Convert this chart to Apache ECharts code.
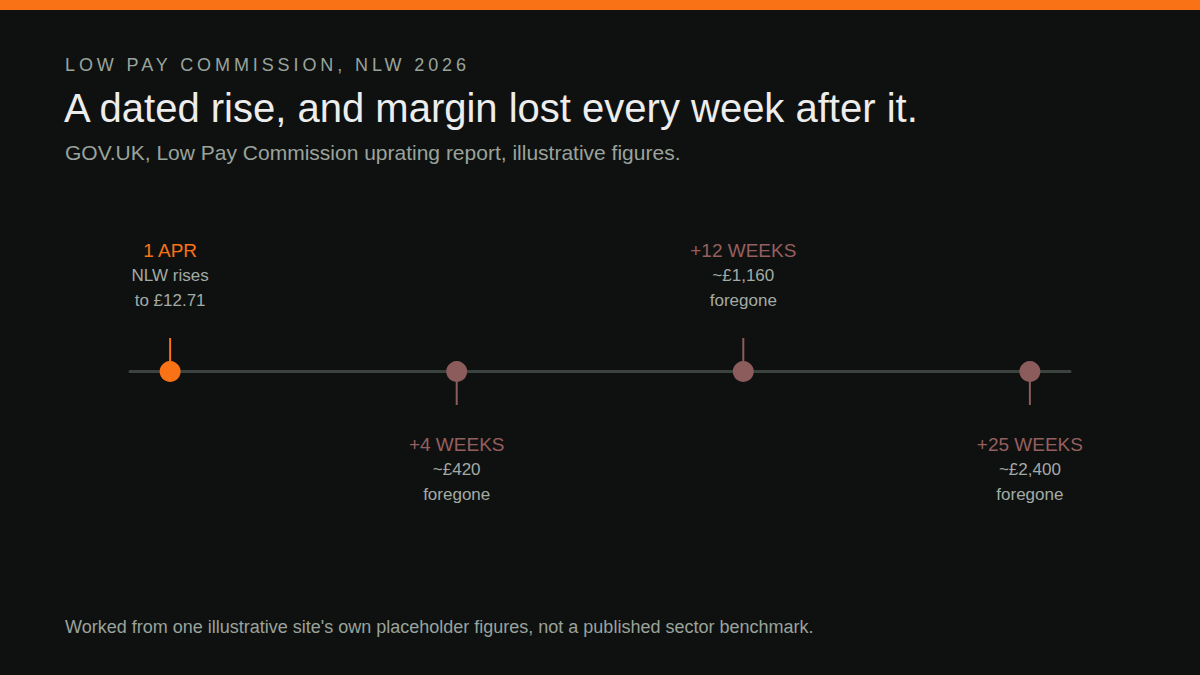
<!DOCTYPE html>
<html>
<head>
  <meta charset="UTF-8">
  <style>
    html, body { margin: 0; padding: 0; background: #0f1110; }
    #chart { width: 1200px; height: 675px; }
  </style>
  <script src="https://cdn.jsdelivr.net/npm/echarts@6/dist/echarts.min.js"></script>
</head>
<body>
  <div id="chart"></div>
  <script>
    // milestones along the timeline, evenly spaced
    const stops = ['1 APR', '+4 WEEKS', '+12 WEEKS', '+25 WEEKS']
    const notes = [
      ['NLW rises', 'to £12.71'],
      ['~£420', 'foregone'],
      ['~£1,160', 'foregone'],
      ['~£2,400', 'foregone']
    ]

    const kicker = 'LOW PAY COMMISSION, NLW 2026'
    const ORANGE = '#f97316'
    const MAUVE = '#8c5b5b'
    const MUTED = '#a3aba5'

    const chart = echarts.init(document.getElementById('chart'), null, { renderer: 'svg' })

    const colorOf = i => i === 0 ? ORANGE : MAUVE
    const up = i => i % 2 === 0

    const stemData = stops.map((s, i) => ({
      value: [i, up(i) ? 1 : -1],
      itemStyle: { color: colorOf(i) }
    }))

    const dotData = stops.map((s, i) => ({
      value: [i, 0],
      name: s,
      itemStyle: { color: colorOf(i), opacity: 1 },
      label: {
        position: up(i) ? 'top' : 'bottom',
        distance: up(i) ? 48 : 49,
        formatter: '{' + (i === 0 ? 't0' : 't') + '|' + s + '}\n' +
          notes[i].map(n => '{b|' + n + '}').join('\n')
      }
    }))

    const option = {
      backgroundColor: '#0f1110',
      animation: false,
      textStyle: { fontFamily: '"Liberation Sans", Arial, sans-serif' },
      graphic: [
        { type: 'rect', left: 0, top: 0, shape: { width: 1200, height: 10 }, style: { fill: ORANGE } }
      ],
      title: [
        {
          text: kicker, left: 65, top: 56, padding: 0,
          textStyle: { fontSize: 18, fontWeight: 'normal', color: '#9aa49d' }
        },
        {
          text: 'A dated rise, and margin lost every week after it.', left: 64, top: 88, padding: 0,
          textStyle: { fontSize: 40, fontWeight: 'normal', color: '#ededed' }
        },
        {
          text: 'GOV.UK, Low Pay Commission uprating report, illustrative figures.', left: 65, top: 142, padding: 0,
          textStyle: { fontSize: 21, fontWeight: 'normal', color: '#9aa39c' }
        },
        {
          text: "Worked from one illustrative site's own placeholder figures, not a published sector benchmark.",
          left: 65, top: 618, padding: 0,
          textStyle: { fontSize: 18, fontWeight: 'normal', color: '#9aa39c' }
        }
      ],
      grid: { left: 130, right: 130, top: 338, bottom: 270, containLabel: false },
      xAxis: {
        type: 'value', min: -0.14, max: 3.14,
        axisLine: { show: true, onZero: true, lineStyle: { color: '#3a433e', width: 3 } },
        axisTick: { show: false }, axisLabel: { show: false }, splitLine: { show: false }
      },
      yAxis: {
        type: 'value', min: -1, max: 1, show: false
      },
      series: [
        {
          type: 'bar', barWidth: 2, data: stemData, silent: true
        },
        {
          type: 'scatter', symbolSize: 21, data: dotData, z: 5,
          itemStyle: { opacity: 1 },
          label: {
            show: true,
            rich: {
              t0: { fontSize: 19, color: ORANGE, lineHeight: 26, align: 'center' },
              t: { fontSize: 19, color: '#955f5f', lineHeight: 26, align: 'center' },
              b: { fontSize: 17, color: MUTED, lineHeight: 25, align: 'center' }
            }
          }
        }
      ]
    }

    chart.setOption(option)

    // spaced caps for the kicker line
    function spaceKicker () {
      chart.getDom().querySelectorAll('text').forEach(t => {
        if (t.textContent === kicker) t.style.letterSpacing = '3.9px'
      })
    }
    chart.on('finished', spaceKicker)
    spaceKicker()
  </script>
</body>
</html>
